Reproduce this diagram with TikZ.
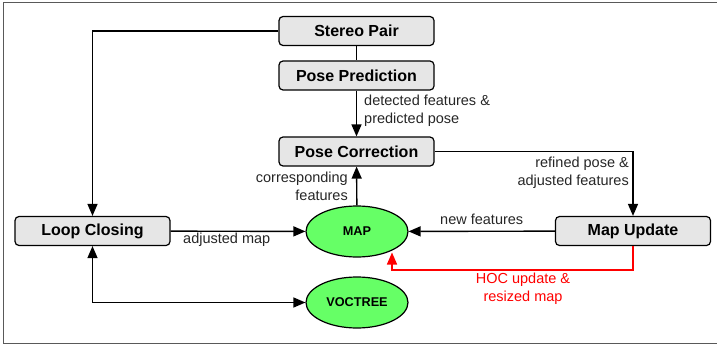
\documentclass[tikz,border=0pt]{standalone}
\usepackage{fontspec}
\setmainfont{Liberation Sans}
\usetikzlibrary{arrows.meta,shapes.geometric}
\definecolor{boxgray}{HTML}{E6E6E6}
\definecolor{mapgreen}{HTML}{66FF66}
\tikzset{
  procbox/.style={draw=black, line width=1.2pt, fill=boxgray, rounded corners=4pt,
    minimum width=155pt, minimum height=29pt, inner sep=0pt,
    font=\fontsize{16}{19}\selectfont\bfseries},
  store/.style={ellipse, draw=black, line width=1.2pt, fill=mapgreen,
    minimum width=102pt, minimum height=51pt, inner sep=0pt,
    font=\fontsize{12.7}{15}\selectfont\bfseries},
  conn/.style={line width=1.4pt, -{Triangle[length=12pt,width=10pt]}},
  plain/.style={line width=1.4pt},
  lbl/.style={font=\fontsize{14.5}{17.5}\selectfont, text=black!85, inner sep=0pt},
}
\begin{document}
\begin{tikzpicture}[x=1pt,y=-1pt]
\useasboundingbox (0,0) rectangle (717,345);
\draw[gray!70!black, line width=1pt] (717,3) -- (3,3) -- (3,343) -- (717,343);

\node[procbox] (sp) at (356.5,31) {Stereo Pair};
\node[procbox] (pp) at (356.5,75.5) {Pose Prediction};
\node[procbox] (pc) at (356.5,151.5) {Pose Correction};
\node[procbox] (lc) at (92.5,231) {Loop Closing};
\node[procbox] (mu) at (633,231) {Map Update};
\node[store] (map) at (357,231.5) {MAP};
\node[store] (voc) at (357,302.5) {VOCTREE};

\coordinate (c1) at (92.5,31);
\coordinate (c2) at (633,151.5);
\coordinate (c3) at (633,270);
\coordinate (c4) at (392,270);
\coordinate (c5) at (92.5,302.5);

\draw[plain] (sp) -- (pp);
\draw[conn] (sp.west) -- (c1) -- (lc.north);
\draw[conn] (pp) -- (pc);
\draw[conn] (pc.east) -- (c2) -- (mu.north);
\draw[conn] (map) -- (pc);
\draw[conn] (lc) -- (map);
\draw[conn] (mu) -- (map);
\draw[line width=1.4pt, red, -{Triangle[length=12pt,width=10pt]}] (mu.south) -- (c3) -- (c4) -- (392,252.5);
\draw[line width=1.4pt, {Triangle[length=12pt,width=10pt]}-{Triangle[length=12pt,width=10pt]}] (lc.south) -- (c5) -- (voc.west);

\node[lbl, anchor=north west, align=left] (l1) at (364,95) {detected features \&\\predicted pose};
\node[lbl, anchor=north east, align=right] (l2) at (629,157) {refined pose \&\\adjusted features};
\node[lbl, anchor=north east, align=right] (l3) at (348,172) {corresponding\\features};
\node[lbl, anchor=north west] (l4) at (183,233) {adjusted map};
\node[lbl, anchor=north west] (l5) at (440,214) {new features};
\node[lbl, anchor=north, align=center, text=red] (l6) at (523,273) {HOC update \&\\resized map};
\end{tikzpicture}
\end{document}
